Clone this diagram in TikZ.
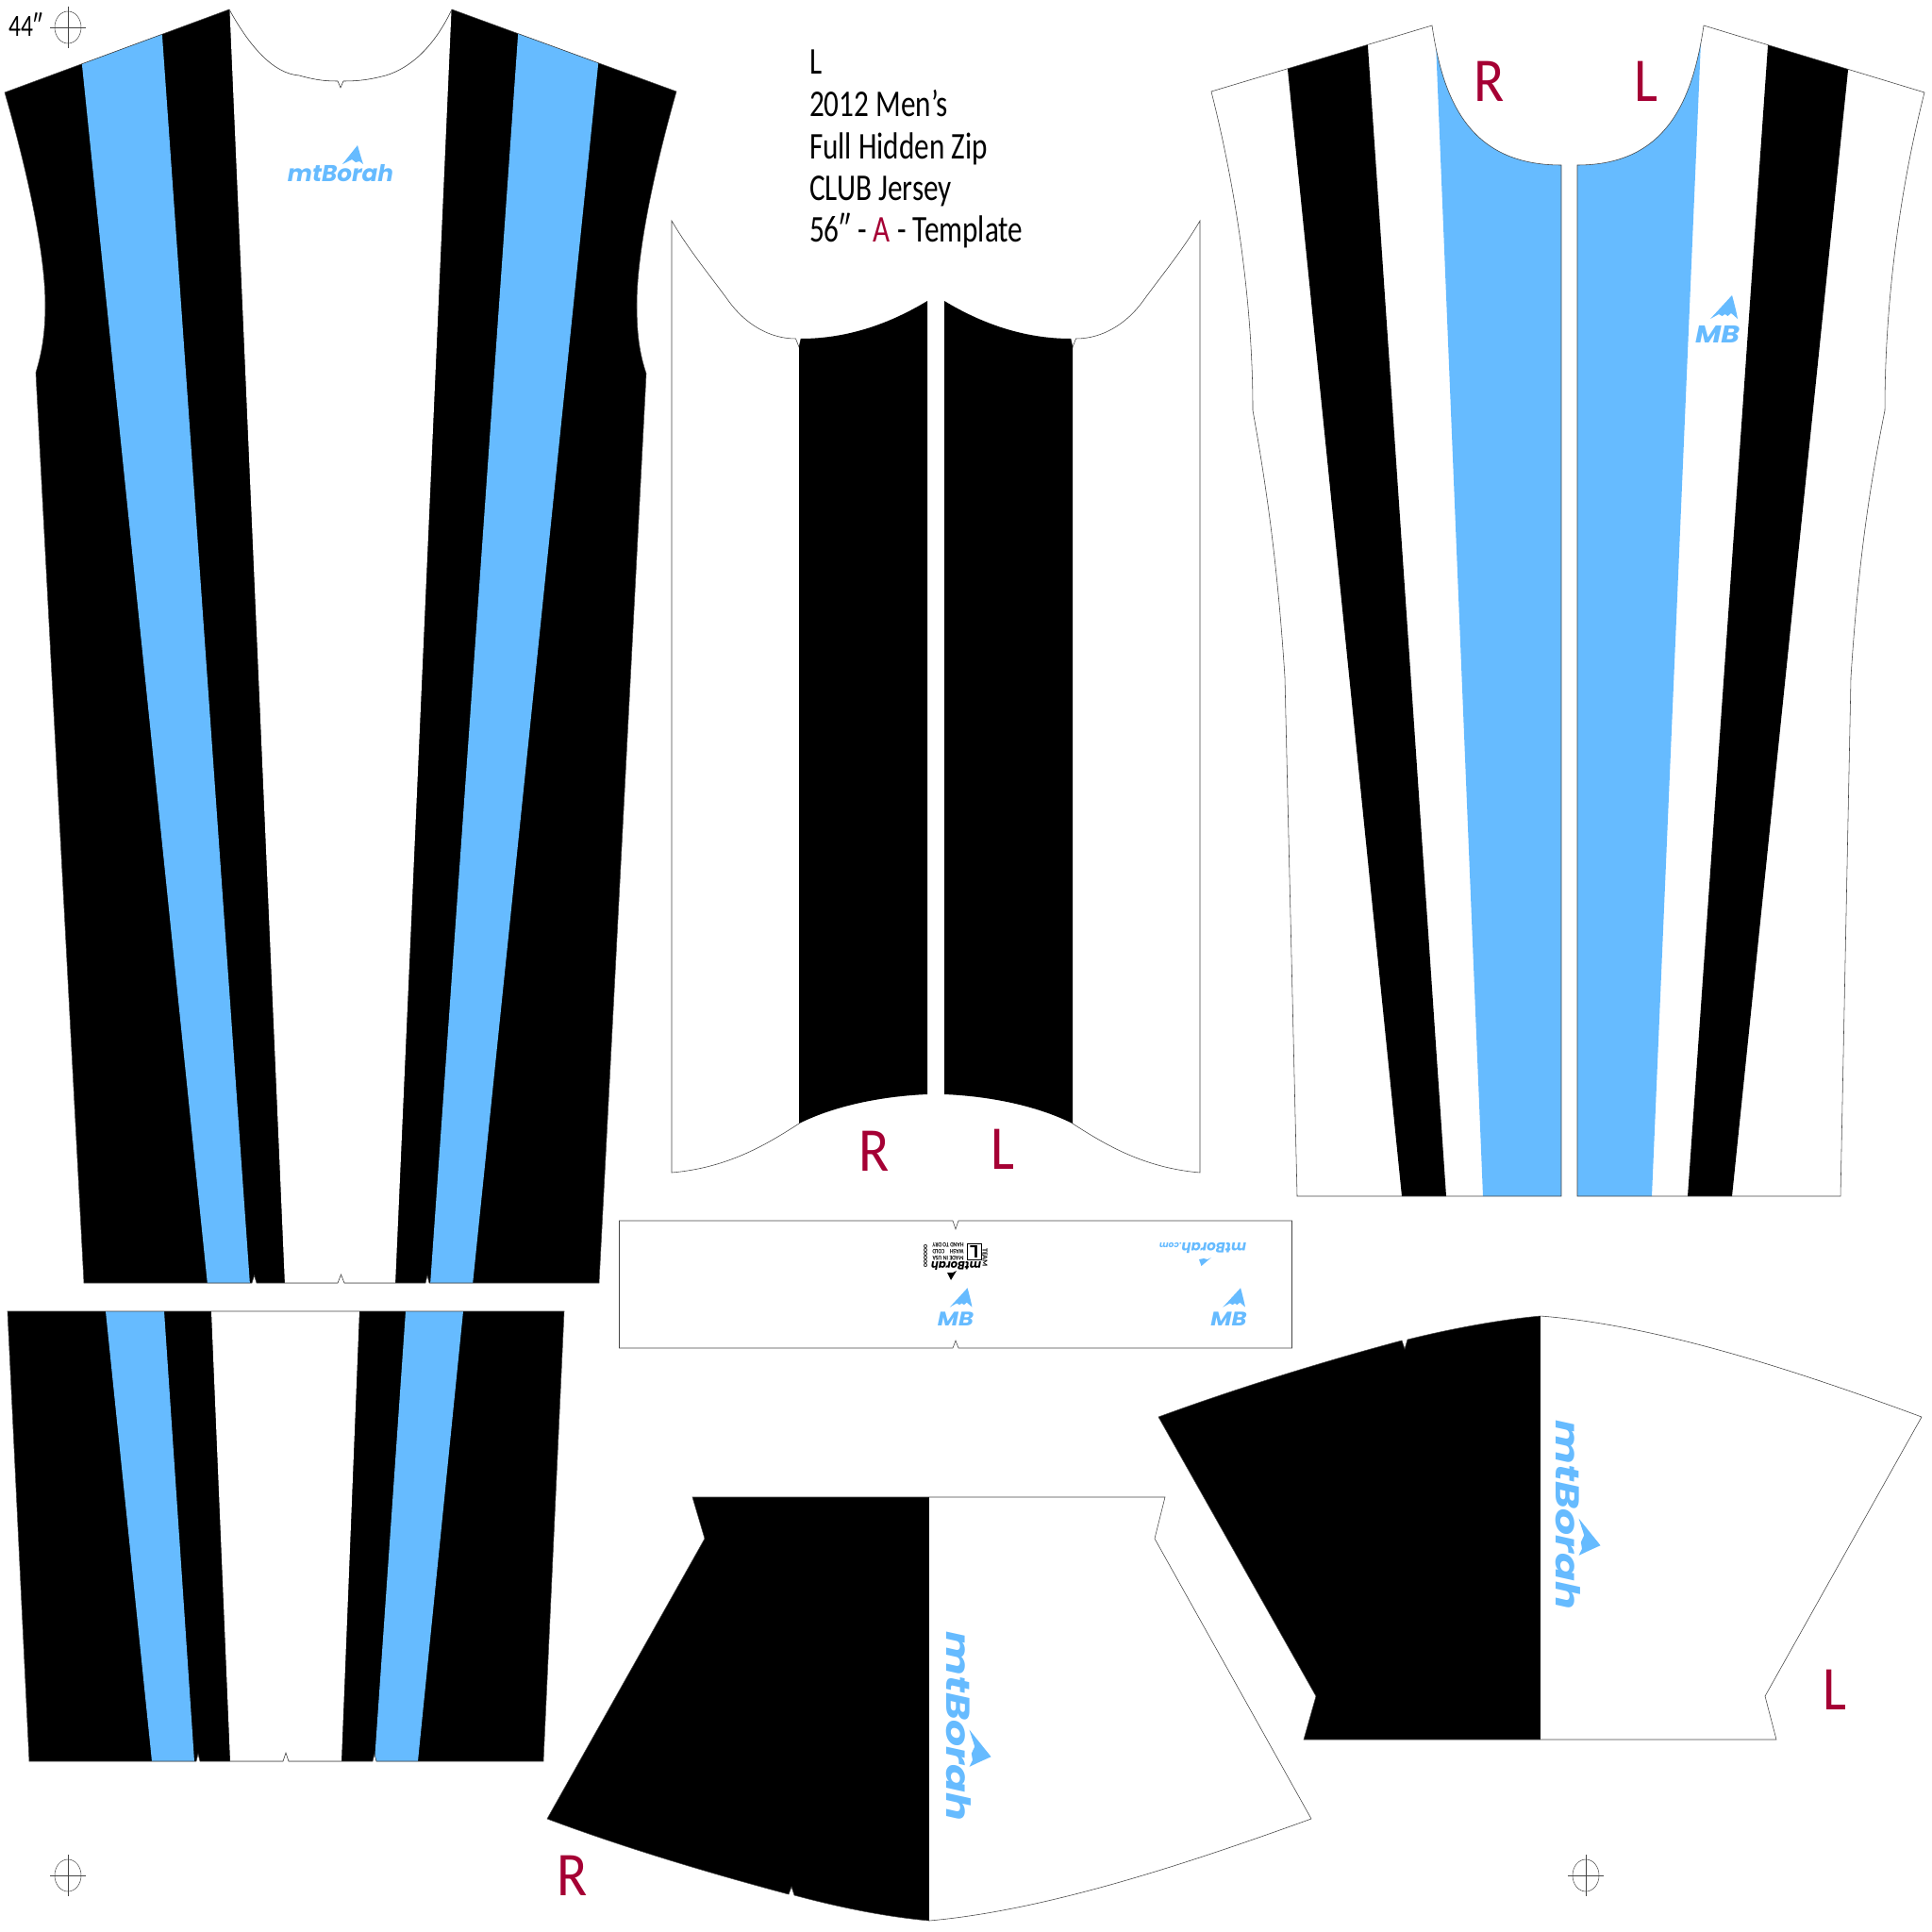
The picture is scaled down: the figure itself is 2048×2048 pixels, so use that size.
\documentclass[tikz,border=0pt]{standalone}
\usepackage{graphicx}
\usepackage{fontspec}
\setmainfont{Carlito}
\newfontfamily\notefont{Carlito}[FakeStretch=0.78]
\newfontfamily\markfont{Carlito}[FakeStretch=0.9]
\newfontfamily\logofont{Poppins}[BoldFont={Poppins Bold},ItalicFont={Poppins Italic},BoldItalicFont={Poppins Bold Italic}]
\definecolor{skyblue}{HTML}{66BBFF}
\definecolor{labelred}{HTML}{A50034}
\definecolor{cutline}{HTML}{444444}
\newlength{\pxu}\setlength{\pxu}{0.05cm}
\newcommand{\pxfont}[1]{\fontsize{#1\pxu}{#1\pxu}\selectfont}
\newcommand{\peakshape}{(18,-30) .. controls (20,-23) and (22,-16) .. (24,-10) -- (20,-13) -- (16,-12) -- (12,-15) -- (8,-13) -- (2,-10) -- cycle}
% wordmark: name, x, y, rotation, scale, colour
\newcommand{\mtlogo}[6][]{%
 \begin{scope}[shift={(#2,#3)},rotate=#4,scale=#5]
  \node[wm,text=#6] (#1) at (0,0) {\resizebox{112\pxu}{18\pxu}{\logofont\bfseries\itshape mtBorah}};
  \fill[#6] \peakshape;
 \end{scope}}
% sleeve wordmark: flatter in height than the chest one
\newcommand{\sleevelogo}[3][]{%
 \begin{scope}[shift={(#2,#3)},rotate=-90,xscale=1.79,yscale=1.44]
  \node[wm,text=skyblue] (#1) at (0,0) {\resizebox{112\pxu}{18\pxu}{\logofont\bfseries\itshape mtBorah}};
  \fill[skyblue,yscale=0.8] \peakshape;
 \end{scope}}
\newcommand{\mblogo}[5][]{%
 \begin{scope}[shift={(#2,#3)},scale=#4]
  \node[wm,text=#5] (#1) at (0,0) {\resizebox{47\pxu}{18\pxu}{\logofont\bfseries\itshape MB}};
  \fill[#5] (15.5,-41) .. controls (18,-32) and (20,-24) .. (21.5,-16) -- (17,-20) -- (14.5,-22) -- (11,-19) -- (8,-21) -- (5,-19) -- (1.5,-21) -- (-7.5,-16) -- cycle;
 \end{scope}}
\newcommand{\regmark}[1]{%
 \begin{scope}[shift={#1}]
  \draw[regline] (0,0) ellipse (14 and 17);
  \draw[regline] (-19,0) -- (19,0);
  \draw[regline] (0,-22) -- (0,22);
 \end{scope}}
\newcommand{\frontpanel}{(5,98) -- (243,10) .. controls (265,50) and (290,78) .. (317,80) .. controls (335,85) and (345,86) .. (358,86) -- (361,93) -- (364,86) .. controls (378,86) and (390,85) .. (409,80) .. controls (435,72) and (460,50) .. (479,10) -- (717,97) .. controls (692,185) and (675,270) .. (675,323) .. controls (675,355) and (678,375) .. (685,396) -- (635,1360) -- (455,1360) -- (453,1352) -- (451,1360) -- (365,1360) -- (361.5,1351) -- (358,1360) -- (272,1360) -- (269.5,1352) -- (267,1360) -- (89,1360) -- (38,395) .. controls (44,375) and (48,355) .. (48,323) .. controls (48,270) and (30,185) .. (5,98) -- cycle}
\newcommand{\lowerpanel}{(8,1390) -- (598,1390) -- (576,1867) -- (399,1867) -- (397,1859) -- (395,1867) -- (306,1867) -- (303,1858) -- (300,1867) -- (212,1867) -- (210,1859) -- (208,1867) -- (31,1867) -- cycle}
\newcommand{\sidepanelL}{(1284,97) -- (1518,27) .. controls (1530,110) and (1560,175) .. (1655,175) -- (1655,1268) -- (1375,1268) -- (1362,718) .. controls (1355,610) and (1345,530) .. (1328,435) .. controls (1328,320) and (1310,200) .. (1284,97) -- cycle}
\newcommand{\sidepanelR}{(2040,98) -- (1806,27) .. controls (1794,110) and (1764,175) .. (1672,175) -- (1672,1268) -- (1951,1268) -- (1962,718) .. controls (1969,610) and (1979,530) .. (1998,435) .. controls (1998,320) and (2014,200) .. (2040,98) -- cycle}
\newcommand{\sleeveR}{(1228,1502) .. controls (1310,1472) and (1400,1444) .. (1486,1421) -- (1489,1430) -- (1492,1420) .. controls (1540,1408) and (1590,1399) .. (1633,1395) .. controls (1760,1405) and (1910,1455) .. (2037,1502) -- (1871,1798) -- (1883,1844) -- (1382,1844) -- (1395,1798) -- cycle}
\newcommand{\sleeveL}{(580,1928) -- (747,1631) -- (734,1587) -- (1235,1587) -- (1224,1631) -- (1390,1928) .. controls (1260,1975) and (1110,2025) .. (985,2036) .. controls (940,2032) and (890,2022) .. (842,2009) -- (839,2000) -- (836,2008) .. controls (750,1985) and (660,1958) .. (580,1928) -- cycle}
\tikzset{
 cut/.style={draw=cutline,line width=0.8pt,line join=miter},
 regline/.style={draw=cutline,line width=0.7pt},
 wm/.style={inner sep=0pt,outer sep=0pt,transform shape},
 note/.style={anchor=base west,inner sep=0pt,text=black,font=\notefont\pxfont{40}},
 sidemark/.style={anchor=center,inner sep=0pt,text=labelred,font=\markfont\pxfont{66}},
 tiny/.style={inner sep=0pt,text=black,font=\bfseries\pxfont{8}}
}
\begin{document}
\begin{tikzpicture}[x=0.05cm,y=-0.05cm]
\useasboundingbox (0,0) rectangle (2048,2048);
\fill[white] (0,0) rectangle (2048,2048);

% front panel
\begin{scope}
 \clip \frontpanel;
 \fill[black] (0,0) rectangle (722,1370);
 \fill[white] (243,0) -- (479,0) -- (419,1362) -- (302,1362) -- cycle;
 \fill[skyblue] (84,40) -- (170,10) -- (265,1362) -- (220,1362) -- cycle;
 \fill[skyblue] (551,10) -- (637,40) -- (501,1362) -- (456,1362) -- cycle;
\end{scope}
\draw[cut] \frontpanel;

% lower back panel
\begin{scope}
 \clip \lowerpanel;
 \fill[black] (0,1385) rectangle (605,1870);
 \fill[white] (224,1390) -- (381,1390) -- (362,1867) -- (244,1867) -- cycle;
 \fill[skyblue] (112,1390) -- (174,1390) -- (206,1867) -- (161,1867) -- cycle;
 \fill[skyblue] (430,1390) -- (491,1390) -- (443,1867) -- (397,1867) -- cycle;
\end{scope}
\draw[cut] \lowerpanel;

% centre collar panel
\draw[cut] (849,359) -- (847,368) -- (843.5,359) .. controls (815,359) and (790,343) .. (773,320) .. controls (755,295) and (730,265) .. (712,234) -- (712,1243) .. controls (770,1238) and (810,1215) .. (847,1191);
\draw[cut] (1135,359) -- (1137,368) -- (1140.5,359) .. controls (1169,359) and (1194,343) .. (1211,320) .. controls (1229,295) and (1254,265) .. (1272,234) -- (1272,1243) .. controls (1214,1238) and (1174,1215) .. (1137,1191);
\fill[black] (847,368) -- (849,359) .. controls (900,359) and (945,342) .. (983,319) -- (983,1160) .. controls (935,1162) and (885,1172) .. (847,1191) -- cycle;
\fill[black] (1137,368) -- (1135,359) .. controls (1084,359) and (1039,342) .. (1001,319) -- (1001,1160) .. controls (1049,1162) and (1099,1172) .. (1137,1191) -- cycle;

% side panels
\begin{scope}
 \clip \sidepanelL;
 \fill[black] (1362.6,50) -- (1448,20) -- (1533,1268) -- (1486,1268) -- cycle;
 \fill[skyblue] (1521,20) -- (1665,20) -- (1655,1268) -- (1572,1268) -- cycle;
\end{scope}
\draw[cut] \sidepanelL;
\begin{scope}
 \clip \sidepanelR;
 \fill[black] (1961.5,50) -- (1876,20) -- (1789,1268) -- (1836,1268) -- cycle;
 \fill[skyblue] (1804,20) -- (1660,20) -- (1672,1268) -- (1751,1268) -- cycle;
\end{scope}
\draw[cut] \sidepanelR;

% sleeves
\begin{scope}
 \clip \sleeveR;
 \fill[black] (1200,1380) rectangle (1633,1850);
\end{scope}
\draw[cut] \sleeveR;
\begin{scope}
 \clip \sleeveL;
 \fill[black] (570,1580) rectangle (985,2040);
\end{scope}
\draw[cut] \sleeveL;

% label strip
\draw[cut] (656.5,1294) -- (1010,1294) -- (1013,1303) -- (1016,1294) -- (1369.5,1294) -- (1369.5,1429) -- (1016,1429) -- (1013,1421) -- (1010,1429) -- (656.5,1429) -- cycle;

% registration marks
\regmark{(72,29)}
\regmark{(72,1988)}
\regmark{(1681,1988)}

% logos
\mtlogo[wmfront]{361}{184}{0}{1}{skyblue}
\sleevelogo[wmsleeveL]{1016}{1830}
\sleevelogo[wmsleeveR]{1662}{1606}
\mblogo[mbside]{1820.5}{354}{1}{skyblue}
\mblogo[mbstripA]{1013}{1398.5}{0.81}{skyblue}
\mblogo[mbstripB]{1302.5}{1398.5}{0.81}{skyblue}

% strip: web address, upside down
\begin{scope}[shift={(1275,1323.5)},rotate=180]
 \node[wm,text=skyblue] (wmweb) at (0,0) {\resizebox{92\pxu}{!}{\logofont\bfseries\itshape mtBorah\scalebox{0.6}{.com}}};
\end{scope}
\fill[skyblue] (1284,1333) -- (1280,1335) -- (1276,1334) -- (1271,1335) -- (1273.5,1342) -- cycle;

% strip: care tag, upside down
\node[tiny,rotate=180] (tagA) at (1005,1320) {\resizebox{33\pxu}{4.5\pxu}{HAND TO DRY}};
\node[tiny,rotate=180] (tagB) at (1005,1327) {\resizebox{33\pxu}{4.5\pxu}{WASH\quad COLD}};
\node[tiny,rotate=180] (tagC) at (1005,1333.5) {\resizebox{33\pxu}{4.5\pxu}{MADE IN USA}};
\node[tiny,rotate=180] (tagL) at (1032.5,1326.5) {\resizebox{9\pxu}{13\pxu}{L}};
\draw[black,line width=1.4pt] (1025,1318.5) rectangle (1040,1335);
\node[tiny,rotate=180,text=black] (tagWm) at (1013.5,1342) {\resizebox{53\pxu}{9\pxu}{\logofont\bfseries\itshape mtBorah}};
\fill[black] (1014,1347) -- (1010,1349) -- (1004,1349) -- (1008,1357) -- cycle;
\node[tiny,rotate=-90] (tagNo) at (981,1331) {\resizebox{24\pxu}{4\pxu}{000000}};
\node[tiny,rotate=-90] (tagTeam) at (1044,1333) {\resizebox{20\pxu}{5\pxu}{TEAM}};

% notes
\node[note] (size) at (9,39) {\resizebox{36\pxu}{!}{44″}};
\node[note] (t1) at (858,79) {L};
\node[note] (t2) at (858,124) {2012 Men’s};
\node[note] (t3) at (858,168) {Full Hidden Zip};
\node[note] (t4) at (858,212) {CLUB Jersey};
\node[note] (t5) at (858,256) {56″ - \textcolor{labelred}{A} - Template};

% side markers
\node[sidemark] (mR1) at (1579,86) {R};
\node[sidemark] (mL1) at (1745,86) {L};
\node[sidemark] (mR2) at (927,1220) {R};
\node[sidemark] (mL2) at (1063,1218) {L};
\node[sidemark] (mL3) at (1945,1791) {L};
\node[sidemark] (mR3) at (607,1988) {R};
\end{tikzpicture}
\end{document}
